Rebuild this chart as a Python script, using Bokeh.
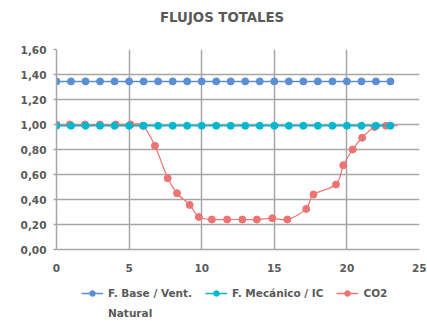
from bokeh.plotting import figure
from bokeh.layouts import column
from bokeh.models import FixedTicker, Legend, LegendItem, ColumnDataSource
from bokeh.embed import file_html
from bokeh.resources import INLINE

# ---- data ----
hours = [0, 1, 2, 3, 4, 5, 6, 7, 8, 9, 10, 11, 12, 13, 14, 15, 16, 17, 18, 19, 20, 21, 22, 23]
base_vent = [1.345, 1.345, 1.345, 1.345, 1.345, 1.345, 1.345, 1.345, 1.345, 1.345, 1.345, 1.345,
             1.345, 1.345, 1.345, 1.345, 1.345, 1.345, 1.345, 1.345, 1.345, 1.345, 1.345, 1.345]
mecanico = [0.99, 0.99, 0.99, 0.99, 0.99, 0.99, 0.99, 0.99, 0.99, 0.99, 0.99, 0.99,
            0.99, 0.99, 0.99, 0.99, 0.99, 0.99, 0.99, 0.99, 0.99, 0.99, 0.99, 0.99]
co2_x = [0, 0.92, 1.95, 2.99, 4.07, 5.1, 5.95, 6.78, 7.66, 8.3, 9.17, 9.8, 10.7, 11.75, 12.8,
         13.8, 14.86, 15.9, 17.2, 17.7, 19.25, 19.75, 20.4, 21.05, 21.9, 22.7, 23.5]
co2_y = [1.0, 1.0, 1.0, 1.0, 1.0, 1.0, 0.99, 0.83, 0.57, 0.45, 0.357, 0.26, 0.24, 0.24, 0.24,
         0.24, 0.25, 0.24, 0.325, 0.44, 0.52, 0.674, 0.80, 0.894, 0.98, 0.99, 0.99]
y_ticks = [0.0, 0.2, 0.4, 0.6, 0.8, 1.0, 1.2, 1.4, 1.6]
y_tick_labels = ["0,00", "0,20", "0,40", "0,60", "0,80", "1,00", "1,20", "1,40", "1,60"]
x_ticks = [0, 5, 10, 15, 20, 25]
series_names = ["F. Base / Vent.", "F. Mecánico / IC", "CO2"]
series_name_line2 = "Natural"
chart_title = "FLUJOS TOTALES"

BLUE = "#5b8fd4"
CYAN = "#00b7cf"
RED = "#ee7373"
GRAY = "#a6a6a6"
TXT = "#595959"
FONT = "DejaVu Sans"
FS = "10.5px"


def strip(height):
    f = figure(width=426, height=height, output_backend="svg", toolbar_location=None,
               x_range=(100, 101), y_range=(100, 101), x_axis_type=None, y_axis_type=None,
               min_border=0, min_border_left=0, min_border_right=0, min_border_top=0,
               min_border_bottom=0)
    f.grid.visible = False
    f.outline_line_color = None
    return f


# ---- title strip ----
p0 = strip(30)
t_blank = p0.scatter(hours[:1], base_vent[:1], size=1, fill_alpha=0, line_alpha=0)
title_leg = Legend(items=[LegendItem(label=chart_title, renderers=[t_blank])],
                   orientation="horizontal", border_line_color=None, background_fill_alpha=0,
                   label_text_font=FONT, label_text_font_size="13.3px",
                   label_text_font_style="bold", label_text_color=TXT, glyph_width=1,
                   glyph_height=16, label_height=16, label_standoff=0, padding=0, margin=0,
                   location=(103, 5))
p0.add_layout(title_leg, "center")

# ---- main chart ----
p = figure(width=426, height=246, output_backend="svg", toolbar_location=None,
           x_range=(0, 25), y_range=(0, 1.6),
           min_border_left=56, min_border_right=7, min_border_top=19, min_border_bottom=27)
p.outline_line_color = None

p.xaxis.ticker = FixedTicker(ticks=x_ticks)
p.yaxis.ticker = FixedTicker(ticks=y_ticks)
p.yaxis.major_label_overrides = {t: l for t, l in zip(y_ticks, y_tick_labels)}
for ax in (p.xaxis, p.yaxis):
    ax.axis_line_color = GRAY
    ax.axis_line_width = 1.5
    ax.major_tick_line_color = GRAY
    ax.major_tick_line_width = 1.5
    ax.minor_tick_line_color = None
    ax.major_label_text_font = FONT
    ax.major_label_text_font_size = FS
    ax.major_label_text_font_style = "bold"
    ax.major_label_text_color = TXT
p.yaxis.major_tick_out = 3
p.yaxis.major_tick_in = 0
p.yaxis.major_label_standoff = 7
p.xaxis.major_tick_out = 0
p.xaxis.major_tick_in = 0
p.xaxis.major_label_standoff = 14
p.xgrid.ticker = FixedTicker(ticks=x_ticks)
p.ygrid.ticker = FixedTicker(ticks=y_ticks)
for g in (p.xgrid, p.ygrid):
    g.grid_line_color = GRAY
    g.grid_line_width = 1.5

# smoothed CO2 line (Catmull-Rom -> cubic Bezier, like Excel's smoothing)
n = len(co2_x)
x0, y0, x1, y1, cx0, cy0, cx1, cy1 = [], [], [], [], [], [], [], []
for i in range(n - 1):
    pa = (co2_x[max(i - 1, 0)], co2_y[max(i - 1, 0)])
    pb = (co2_x[i], co2_y[i])
    pc = (co2_x[i + 1], co2_y[i + 1])
    pd = (co2_x[min(i + 2, n - 1)], co2_y[min(i + 2, n - 1)])
    x0.append(pb[0]); y0.append(pb[1]); x1.append(pc[0]); y1.append(pc[1])
    cx0.append(pb[0] + (pc[0] - pa[0]) / 6); cy0.append(pb[1] + (pc[1] - pa[1]) / 6)
    cx1.append(pc[0] - (pd[0] - pb[0]) / 6); cy1.append(pc[1] - (pd[1] - pb[1]) / 6)
bz_src = ColumnDataSource(dict(x0=x0, y0=y0, x1=x1, y1=y1, cx0=cx0, cy0=cy0, cx1=cx1, cy1=cy1))

p.bezier(x0="x0", y0="y0", x1="x1", y1="y1", cx0="cx0", cy0="cy0", cx1="cx1", cy1="cy1",
         source=bz_src, line_color=RED, line_width=1.2)
p.scatter(co2_x[:-1], co2_y[:-1], size=7, color=RED)
p.line(hours, base_vent, line_color=BLUE, line_width=1.5)
p.scatter(hours, base_vent, size=7, color=BLUE)
p.line(hours, mecanico, line_color=CYAN, line_width=1.5)
p.scatter(hours, mecanico, size=7, color=CYAN)

# ---- legend strip ----
p2 = strip(45)
lb_l = p2.line(hours[:2], base_vent[:2], line_color=BLUE, line_width=1.5)
lb_s = p2.scatter(hours[:2], base_vent[:2], size=7, color=BLUE)
lm_l = p2.line(hours[:2], mecanico[:2], line_color=CYAN, line_width=1.5)
lm_s = p2.scatter(hours[:2], mecanico[:2], size=7, color=CYAN)
lc_l = p2.line(co2_x[:2], co2_y[:2], line_color=RED, line_width=1.5)
lc_s = p2.scatter(co2_x[:2], co2_y[:2], size=7, color=RED)
l_blank = p2.scatter(hours[:1], base_vent[:1], size=1, fill_alpha=0, line_alpha=0)

common = dict(orientation="horizontal", border_line_color=None, background_fill_alpha=0,
              label_text_font=FONT, label_text_font_size=FS, label_text_font_style="bold",
              label_text_color=TXT, glyph_width=22, glyph_height=14, label_height=14,
              label_standoff=5, padding=0, margin=0)
legend1 = Legend(items=[
    LegendItem(label=series_names[0], renderers=[lb_l, lb_s]),
    LegendItem(label=series_names[1], renderers=[lm_l, lm_s]),
    LegendItem(label=series_names[2], renderers=[lc_l, lc_s]),
], spacing=13, location=(25, 21), **common)
legend2 = Legend(items=[LegendItem(label=series_name_line2, renderers=[l_blank])],
                 location=(25, 1), **common)
p2.add_layout(legend1, "center")
p2.add_layout(legend2, "center")

layout = column(p0, p, p2, spacing=0)
open("out.html", "w").write(file_html(layout, INLINE))
